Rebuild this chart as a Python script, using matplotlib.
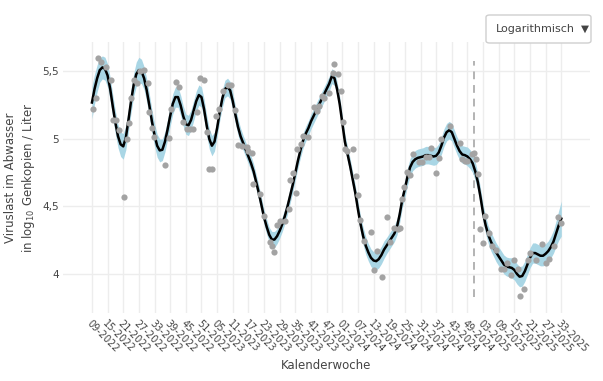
import matplotlib.pyplot as plt
from matplotlib.patches import FancyBboxPatch

# x = weeks since KW 09-2022
kw_labels = ['09-2022', '15-2022', '21-2022', '27-2022', '33-2022', '39-2022', '45-2022', '51-2022',
             '05-2023', '11-2023', '17-2023', '23-2023', '29-2023', '35-2023', '41-2023', '47-2023',
             '01-2024', '07-2024', '13-2024', '19-2024', '25-2024', '31-2024', '37-2024', '43-2024',
             '49-2024', '03-2025', '09-2025', '15-2025', '21-2025', '27-2025', '33-2025']
kw_pos = [i * 6 for i in range(len(kw_labels))]

# gemessene Werte (Punkte)
mess_woche = [0.3, 1.4, 2.3, 3.3, 5.4, 7.3, 8.2, 9.1, 10.5, 12.3, 13.3, 14.3, 15.0, 16.1, 17.2, 18.3,
              20.0, 21.5, 22.0, 23.0, 23.9, 28.1, 29.4, 30.3, 32.1, 33.3, 35.1, 36.3, 37.6, 38.6,
              40.2, 41.5, 43.1, 44.2, 45.0, 46.1, 47.6, 48.9, 50.2, 52.3, 53.2, 54.9, 56.2, 57.5,
              59.4, 60.0, 61.3, 61.9, 64.5, 66.0, 68.3, 69.2, 70.0, 71.1, 72.2, 74.1, 75.4, 76.0,
              77.0, 78.3, 78.8, 80.1, 81.1, 83.0, 85.0, 86.3, 86.9, 88.1, 89.0, 91.1, 92.4, 93.0,
              94.2, 95.5, 96.1, 97.1, 98.0, 100.1, 101.2, 102.2, 102.9, 104.2, 107.0, 108.3, 109.3,
              111.2, 113.1, 114.4, 115.9, 117.2, 118.0, 118.9, 119.8, 121.0, 122.1, 123.1, 125.3,
              126.6, 128.2, 129.1, 130.0, 132.1, 133.2, 133.9, 137.2, 141.3, 141.9, 143.2, 143.8,
              145.8, 146.4, 147.3, 148.1, 148.9, 150.0, 150.9, 152.1, 153.4, 155.1, 157.0, 158.2,
              159.2, 160.8, 162.0, 163.3, 164.3, 165.8, 167.1, 168.1, 170.1, 172.6, 174.3, 175.2,
              177.1, 178.7, 180.0]
mess_wert = [5.224, 5.30, 5.60, 5.57, 5.535, 5.44, 5.137, 5.137, 5.065, 4.57, 4.996, 5.115, 5.30, 5.44,
             5.416, 5.505, 5.51, 5.416, 5.20, 5.08, 5.016, 4.81, 5.01, 5.224, 5.42, 5.387, 5.125,
             5.07, 5.07, 5.07, 5.20, 5.453, 5.433, 5.05, 4.774, 4.78, 5.17, 5.22, 5.354, 5.396,
             5.396, 5.213, 4.952, 4.945, 4.942, 4.91, 4.893, 4.67, 4.596, 4.428, 4.236, 4.206,
             4.164, 4.36, 4.39, 4.39, 4.478, 4.693, 4.75, 4.60, 4.927, 4.96, 5.02, 5.016, 5.24,
             5.206, 5.243, 5.317, 5.30, 5.342, 5.485, 5.552, 5.478, 5.354, 5.125, 4.927, 4.91,
             4.927, 4.724, 4.584, 4.399, 4.243, 4.31, 4.033, 4.169, 3.979, 4.424, 4.236, 4.342,
             4.33, 4.342, 4.557, 4.646, 4.754, 4.73, 4.885, 4.828, 4.828, 4.868, 4.868, 4.932,
             4.75, 4.861, 4.996, 5.095, 4.972, 4.848, 4.836, 4.836, 4.885, 4.898, 4.853, 4.737,
             4.335, 4.226, 4.433, 4.305, 4.206, 4.181, 4.039, 4.039, 4.083, 3.996, 4.107, 4.039,
             3.836, 3.89, 4.107, 4.152, 4.107, 4.219, 4.083, 4.113, 4.206, 4.424, 4.374]

# geglaetteter Verlauf (eine Stuetzstelle pro Woche) und halbe Breite des Konfidenzbands
trend_woche = list(range(0, 181))
trend_wert = [5.27, 5.37, 5.45, 5.51, 5.53, 5.52, 5.47, 5.37, 5.24, 5.12,
              5.02, 4.96, 4.945, 5.01, 5.14, 5.28, 5.40, 5.48, 5.51, 5.50,
              5.45, 5.36, 5.25, 5.13, 5.03, 4.95, 4.915, 4.92, 4.98, 5.07,
              5.17, 5.26, 5.31, 5.31, 5.25, 5.17, 5.11, 5.10, 5.14, 5.21,
              5.28, 5.325, 5.31, 5.22, 5.10, 5.00, 4.95, 4.98, 5.08, 5.20,
              5.30, 5.37, 5.385, 5.36, 5.28, 5.18, 5.09, 5.02, 4.97, 4.92,
              4.87, 4.82, 4.76, 4.68, 4.60, 4.51, 4.42, 4.35, 4.29, 4.255,
              4.255, 4.28, 4.32, 4.37, 4.43, 4.50, 4.58, 4.66, 4.75, 4.84,
              4.92, 4.99, 5.04, 5.08, 5.13, 5.17, 5.21, 5.25, 5.29, 5.33,
              5.37, 5.41, 5.465, 5.45, 5.37, 5.26, 5.12, 4.98, 4.89, 4.80,
              4.70, 4.60, 4.48, 4.37, 4.28, 4.21, 4.16, 4.12, 4.10, 4.095,
              4.11, 4.14, 4.18, 4.21, 4.24, 4.27, 4.30, 4.35, 4.44, 4.55,
              4.63, 4.72, 4.79, 4.83, 4.85, 4.86, 4.865, 4.87, 4.88, 4.88,
              4.875, 4.87, 4.875, 4.90, 4.95, 5.01, 5.05, 5.065, 5.05, 5.00,
              4.95, 4.91, 4.885, 4.88, 4.87, 4.85, 4.82, 4.76, 4.68, 4.57,
              4.45, 4.36, 4.29, 4.24, 4.20, 4.16, 4.13, 4.10, 4.07, 4.055,
              4.05, 4.045, 4.03, 4.00, 3.98, 3.985, 4.02, 4.07, 4.12, 4.155,
              4.155, 4.145, 4.135, 4.135, 4.15, 4.17, 4.20, 4.24, 4.30, 4.36,
              4.41]
band_halb = [0.12, 0.11, 0.10, 0.09, 0.085, 0.085, 0.085, 0.085, 0.085, 0.085,
             0.085, 0.09, 0.095, 0.09, 0.085, 0.085, 0.085, 0.09, 0.095, 0.09,
             0.085, 0.085, 0.085, 0.085, 0.085, 0.085, 0.085, 0.08, 0.075, 0.075,
             0.075, 0.075, 0.075, 0.075, 0.075, 0.075, 0.075, 0.075, 0.075, 0.075,
             0.075, 0.075, 0.075, 0.075, 0.075, 0.075, 0.075, 0.07, 0.065, 0.065,
             0.065, 0.065, 0.065, 0.065, 0.065, 0.065, 0.06, 0.06, 0.055, 0.055,
             0.055, 0.055, 0.055, 0.055, 0.055, 0.055, 0.055, 0.055, 0.055, 0.06,
             0.06, 0.055, 0.055, 0.055, 0.055, 0.055, 0.055, 0.055, 0.055, 0.055,
             0.055, 0.055, 0.055, 0.055, 0.055, 0.055, 0.055, 0.055, 0.055, 0.055,
             0.055, 0.055, 0.055, 0.055, 0.055, 0.055, 0.055, 0.055, 0.055, 0.055,
             0.055, 0.055, 0.06, 0.06, 0.065, 0.065, 0.065, 0.065, 0.065, 0.065,
             0.065, 0.065, 0.065, 0.06, 0.06, 0.06, 0.06, 0.06, 0.06, 0.06,
             0.065, 0.065, 0.065, 0.065, 0.065, 0.065, 0.065, 0.065, 0.065, 0.065,
             0.065, 0.065, 0.065, 0.065, 0.065, 0.065, 0.065, 0.065, 0.065, 0.065,
             0.065, 0.065, 0.065, 0.065, 0.07, 0.07, 0.07, 0.07, 0.065, 0.065,
             0.065, 0.065, 0.065, 0.07, 0.07, 0.07, 0.07, 0.07, 0.07, 0.07,
             0.07, 0.075, 0.075, 0.075, 0.075, 0.075, 0.075, 0.075, 0.075, 0.075,
             0.075, 0.075, 0.075, 0.075, 0.075, 0.075, 0.08, 0.085, 0.095, 0.11,
             0.13]

y_ticks = [4, 4.5, 5, 5.5]
y_labels = ['4', '4,5', '5', '5,5']
schnitt_woche = 146.5

fig = plt.figure(figsize=(6.03, 3.81), dpi=100)
ax = fig.add_axes([63 / 603, 1 - 313 / 381, 527 / 603, 271 / 381])

unten = [w - b for w, b in zip(trend_wert, band_halb)]
oben = [w + b for w, b in zip(trend_wert, band_halb)]
ax.fill_between(trend_woche, unten, oben, color='#a9d6e5', lw=0, zorder=2)
ax.plot(trend_woche, trend_wert, color='black', lw=1.8, zorder=3, solid_joinstyle='round')
ax.scatter(mess_woche, mess_wert, s=20, color='#a3a3a3', lw=0, zorder=4)
ax.vlines(schnitt_woche, 3.83, 5.58, colors='#b3b3b3', linestyles=(0, (4, 3)), lw=1.4, zorder=1)

ax.set_xlim(-11.1, 191)
ax.set_ylim(3.711, 5.718)
ax.set_xticks(kw_pos)
ax.set_xticklabels(kw_labels, rotation=-45, ha='left', va='top', rotation_mode='anchor',
                   fontsize=7, color='#444444')
ax.set_yticks(y_ticks)
ax.set_yticklabels(y_labels, fontsize=7.5, color='#444444')
ax.tick_params(length=0)
ax.tick_params(axis='x', pad=4)
ax.tick_params(axis='y', pad=3)
ax.grid(True, color='#ededed', lw=1)
ax.set_axisbelow(True)
for s in ax.spines.values():
    s.set_visible(False)

ax.set_xlabel('Kalenderwoche', fontsize=8.5, color='#444444', labelpad=3)
ax.set_ylabel('Viruslast im Abwasser\nin log$_{10}$ Genkopien / Liter', fontsize=8.5,
              color='#444444', labelpad=4)

# Dropdown-Knopf
knopf = FancyBboxPatch((486 / 603, 1 - 43 / 381), 105 / 603, 28 / 381,
                       boxstyle='round,pad=0,rounding_size=0.006', transform=fig.transFigure,
                       facecolor='white', edgecolor='#cfcfcf', lw=1, zorder=10)
fig.patches.append(knopf)
fig.text(496 / 603, 1 - 29 / 381, 'Logarithmisch', fontsize=8, color='#444444',
         va='center', ha='left', zorder=11)
fig.text(585 / 603, 1 - 29 / 381, '▼', fontsize=7.5, color='#444444',
         va='center', ha='center', zorder=11)

fig.savefig('out.png', dpi=100)
